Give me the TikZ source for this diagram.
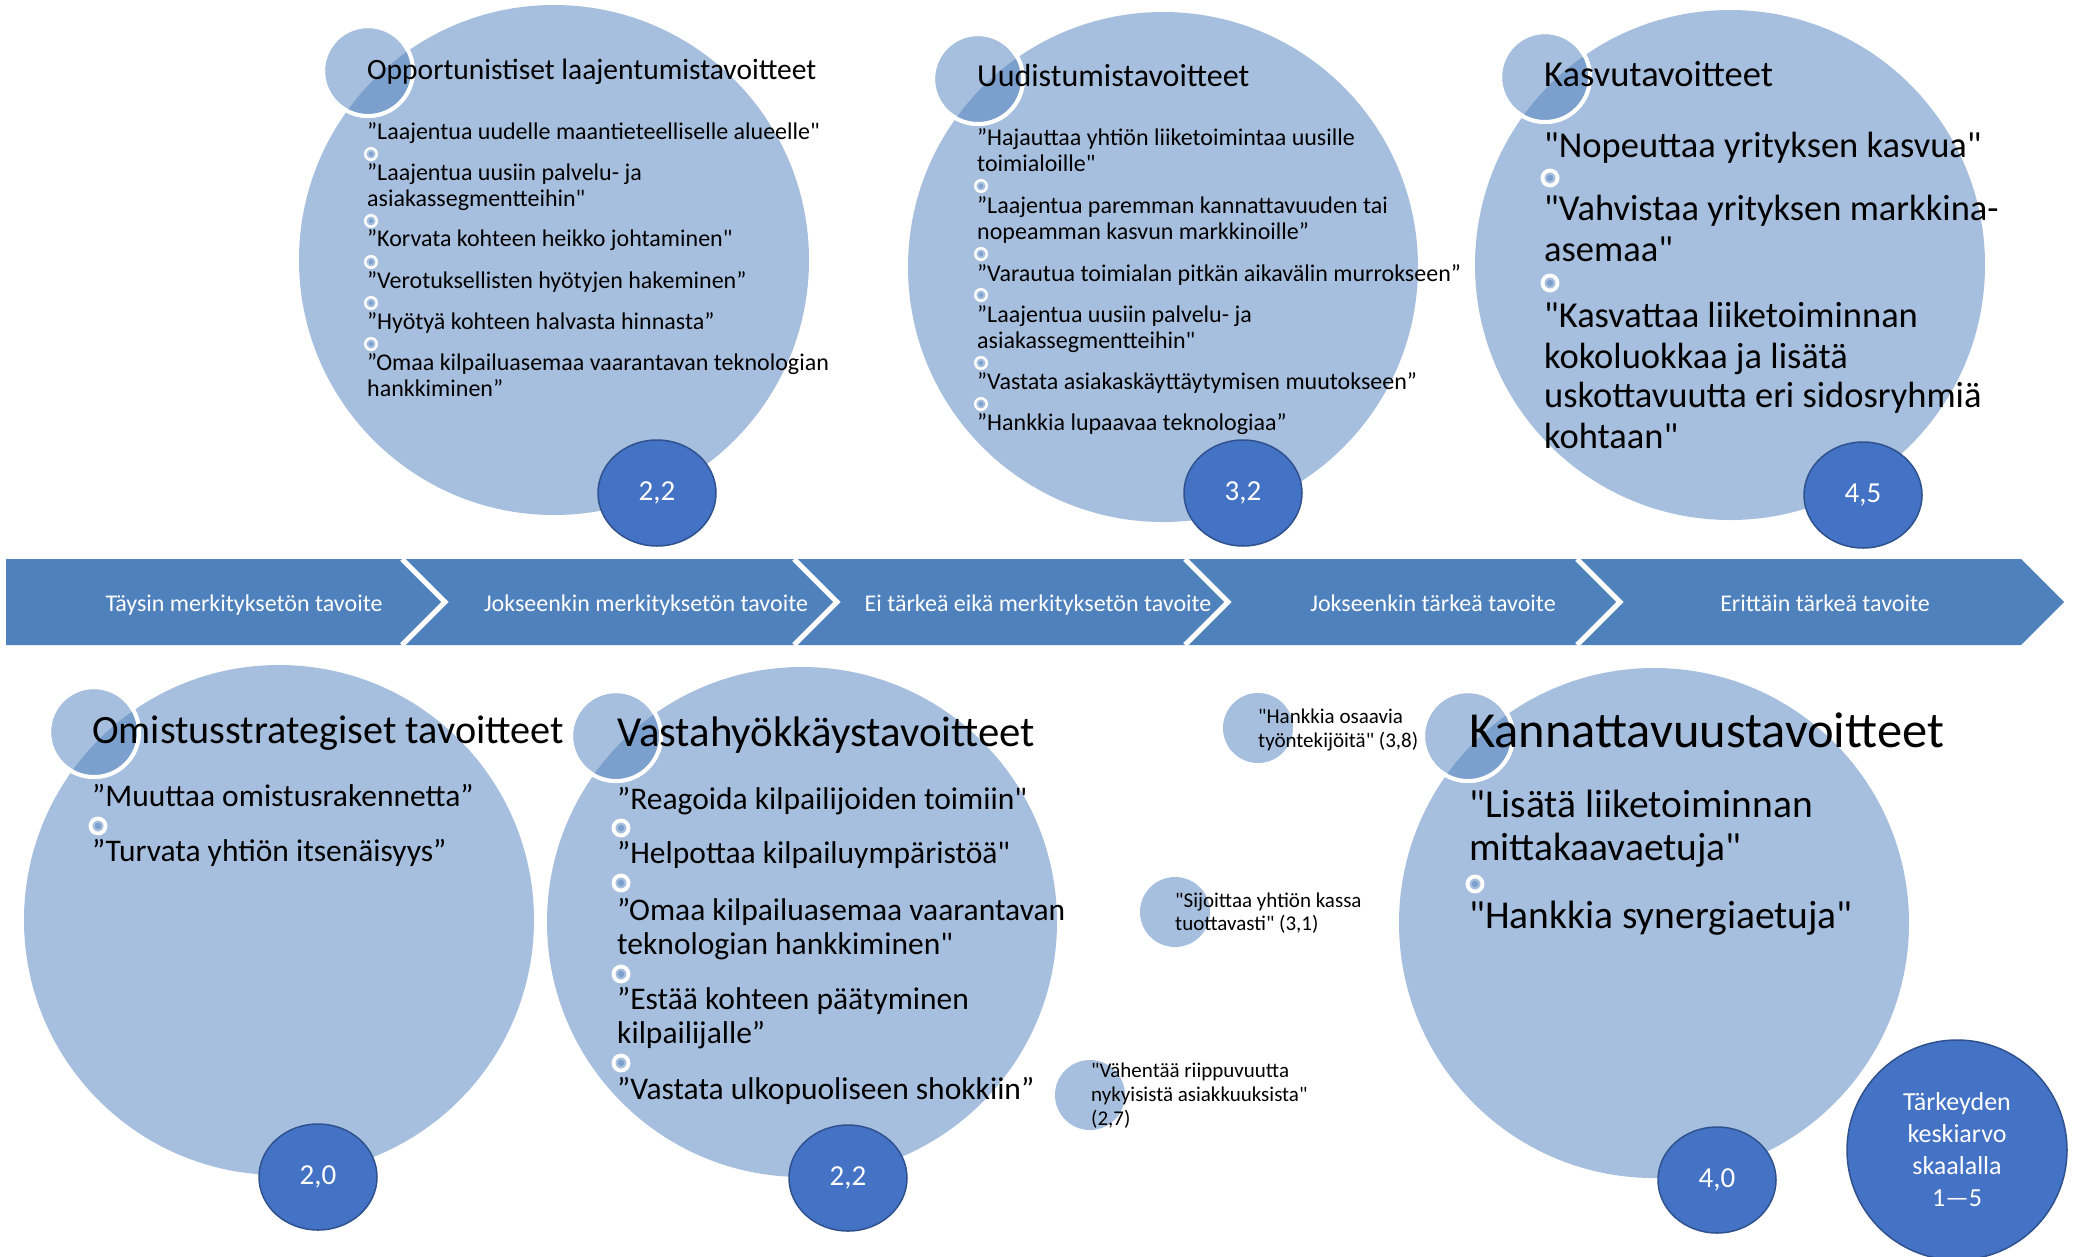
\documentclass[tikz,border=0pt]{standalone}
\usepackage{fontspec}
\setmainfont{Carlito}[Ligatures=TeXOff]
\usetikzlibrary{shapes.geometric}
\definecolor{bandc}{HTML}{4F81BD}
\definecolor{lightc}{HTML}{A7BFDE}
\definecolor{ovlc}{HTML}{7BA0CD}
\definecolor{valc}{HTML}{4472C4}
\definecolor{valbc}{HTML}{2F528F}
\begin{document}
\begin{tikzpicture}[x=1pt,y=-1pt,
  bigc/.style={circle,fill=lightc,minimum size=510pt,inner sep=0pt},
  smallc/.style={circle,fill=lightc,draw=white,line width=4pt,minimum size=90pt,inner sep=0pt},
  bubc/.style={circle,fill=lightc,minimum size=70pt,inner sep=0pt},
  valnode/.style={ellipse,fill=valc,draw=valbc,line width=1.5pt,minimum width=118pt,minimum height=106pt,inner sep=0pt,text=white,font=\fontsize{29}{32}\selectfont},
  legnode/.style={circle,fill=valc,draw=valbc,line width=1.5pt,minimum size=220pt,inner sep=0pt,text=white,align=center,font=\fontsize{26}{32}\selectfont},
  txt/.style={anchor=base west,inner sep=0pt},
  bandtxt/.style={anchor=base,inner sep=0pt,text=white,font=\fontsize{24}{28}\selectfont},
  sepline/.style={draw=white,line width=5pt},
  bulS/.style={circle,draw=white,line width=2.5pt,minimum size=11.5pt,inner sep=0pt,
    path picture={\fill[ovlc] (path picture bounding box.center) circle (2.2pt);}},
  bulL/.style={circle,draw=white,line width=3.8pt,minimum size=15pt,inner sep=0pt,
    path picture={\fill[ovlc] (path picture bounding box.center) circle (3.2pt);}},
  fA/.style={font=\fontsize{29.5}{32}\selectfont},
  fAi/.style={font=\fontsize{24}{26}\selectfont},
  fB/.style={font=\fontsize{32}{35}\selectfont},
  fC/.style={font=\fontsize{36.5}{40}\selectfont},
  fD/.style={font=\fontsize{40.2}{43}\selectfont},
  fDi/.style={font=\fontsize{31.5}{34}\selectfont},
  fE/.style={font=\fontsize{42.8}{46}\selectfont},
  fF/.style={font=\fontsize{50.5}{54}\selectfont},
  fFi/.style={font=\fontsize{39.5}{43}\selectfont},
  fG/.style={font=\fontsize{21}{24}\selectfont}
]
\useasboundingbox (0,0) rectangle (2082,1256);

% ---------- big circles ----------
\node[bigc] (c1) at (554,260) {};
\node[bigc] (c2) at (1163,267) {};
\node[bigc] (c3) at (1730,265) {};
\node[bigc] (c4) at (279,920) {};
\node[bigc] (c5) at (802,922) {};
\node[bigc] (c6) at (1654,923) {};

% ---------- small title circles ----------
\node[smallc] (s1) at (368,71) {};
\node[smallc] (s2) at (978,79) {};
\node[smallc] (s3) at (1545,77) {};
\node[smallc] (s4) at (94,732) {};
\node[smallc] (s5) at (616,736) {};
\node[smallc] (s6) at (1468,736) {};
\foreach \b/\s in {c1/s1,c2/s2,c3/s3,c4/s4,c5/s5,c6/s6}{
  \begin{scope}
    \clip (\b.center) circle (255pt);
    \fill[ovlc] (\s.center) circle (45pt);
  \end{scope}
  \draw[white,line width=4pt] (\s.center) circle (45pt);
}

% ---------- bubbles ----------
\node[bubc] (b1) at (1258,728) {};
\node[bubc] (b2) at (1175,912) {};
\node[bubc] (b3) at (1090,1095) {};

% ---------- band ----------
\fill[bandc] (6,559) -- (2021,559) -- (2064,602) -- (2021,645) -- (6,645) -- cycle;
\draw[sepline] (402,559) -- (445,602) -- (402,645);
\draw[sepline] (794,559) -- (837,602) -- (794,645);
\draw[sepline] (1185,559) -- (1228,602) -- (1185,645);
\draw[sepline] (1577,559) -- (1620,602) -- (1577,645);
\node[bandtxt] (bt1) at (244,611) {Täysin merkityksetön tavoite};
\node[bandtxt] (bt2) at (646,611) {Jokseenkin merkityksetön tavoite};
\node[bandtxt] (bt3) at (1038,611) {Ei tärkeä eikä merkityksetön tavoite};
\node[bandtxt] (bt4) at (1433,611) {Jokseenkin tärkeä tavoite};
\node[bandtxt] (bt5) at (1825,611) {Erittäin tärkeä tavoite};

% ---------- value circles ----------
\node[valnode] (v1) at (657,493) {2,2};
\node[valnode] (v2) at (1243,493) {3,2};
\node[valnode] (v3) at (1863,495) {4,5};
\node[valnode] (v4) at (318,1177) {2,0};
\node[valnode] (v5) at (848,1178) {2,2};
\node[valnode] (v6) at (1717,1180) {4,0};
\node[legnode] (leg) at (1957,1150) {Tärkeyden\\keskiarvo\\skaalalla\\1—5};

% ---------- circle 1 texts ----------
\node[txt,fA] (c1t) at (367,79) {Opportunistiset laajentumistavoitteet};
\node[txt,fAi] (c1i1) at (367,139) {”Laajentua uudelle maantieteelliselle alueelle"};
\node[bulS] (c1b1) at (371,154) {};
\node[txt,fAi] (c1i2a) at (367,180) {”Laajentua uusiin palvelu- ja};
\node[txt,fAi] (c1i2b) at (367,206) {asiakassegmentteihin"};
\node[bulS] (c1b2) at (371,221) {};
\node[txt,fAi] (c1i3) at (367,246) {”Korvata kohteen heikko johtaminen"};
\node[bulS] (c1b3) at (371,262) {};
\node[txt,fAi] (c1i4) at (367,288) {”Verotuksellisten hyötyjen hakeminen”};
\node[bulS] (c1b4) at (371,303) {};
\node[txt,fAi] (c1i5) at (367,329) {”Hyötyä kohteen halvasta hinnasta”};
\node[bulS] (c1b5) at (371,344) {};
\node[txt,fAi] (c1i6a) at (367,370) {”Omaa kilpailuasemaa vaarantavan teknologian};
\node[txt,fAi] (c1i6b) at (367,396) {hankkiminen”};

% ---------- circle 2 texts ----------
\node[txt,fB] (c2t) at (977,86) {Uudistumistavoitteet};
\node[txt,fAi] (c2i1a) at (977,145) {”Hajauttaa yhtiön liiketoimintaa uusille};
\node[txt,fAi] (c2i1b) at (977,171) {toimialoille"};
\node[bulS] (c2b1) at (981,186) {};
\node[txt,fAi] (c2i2a) at (977,213) {”Laajentua paremman kannattavuuden tai};
\node[txt,fAi] (c2i2b) at (977,239) {nopeamman kasvun markkinoille”};
\node[bulS] (c2b2) at (981,254) {};
\node[txt,fAi] (c2i3) at (977,281) {”Varautua toimialan pitkän aikavälin murrokseen”};
\node[bulS] (c2b3) at (981,295) {};
\node[txt,fAi] (c2i4a) at (977,322) {”Laajentua uusiin palvelu- ja};
\node[txt,fAi] (c2i4b) at (977,348) {asiakassegmentteihin"};
\node[bulS] (c2b4) at (981,363) {};
\node[txt,fAi] (c2i5) at (977,389) {”Vastata asiakaskäyttäytymisen muutokseen”};
\node[bulS] (c2b5) at (981,404) {};
\node[txt,fAi] (c2i6) at (977,430) {”Hankkia lupaavaa teknologiaa”};

% ---------- circle 3 texts ----------
\node[txt,fC] (c3t) at (1544,86) {Kasvutavoitteet};
\node[txt,fC] (c3i1) at (1544,157) {"Nopeuttaa yrityksen kasvua"};
\node[bulL] (c3b1) at (1550,178) {};
\node[txt,fC] (c3i2a) at (1544,220) {"Vahvistaa yrityksen markkina-};
\node[txt,fC] (c3i2b) at (1544,261) {asemaa"};
\node[bulL] (c3b2) at (1550,283) {};
\node[txt,fC] (c3i3a) at (1544,327) {"Kasvattaa liiketoiminnan};
\node[txt,fC] (c3i3b) at (1544,368) {kokoluokkaa ja lisätä};
\node[txt,fC] (c3i3c) at (1544,407) {uskottavuutta eri sidosryhmiä};
\node[txt,fC] (c3i3d) at (1544,448) {kohtaan"};

% ---------- circle 4 texts ----------
\node[txt,fD] (c4t) at (92,743) {Omistusstrategiset tavoitteet};
\node[txt,fDi] (c4i1) at (92,806) {”Muuttaa omistusrakennetta”};
\node[bulL] (c4b1) at (98,826) {};
\node[txt,fDi] (c4i2) at (92,861) {”Turvata yhtiön itsenäisyys”};

% ---------- circle 5 texts ----------
\node[txt,fE] (c5t) at (617,746) {Vastahyökkäystavoitteet};
\node[txt,fDi] (c5i1) at (617,809) {”Reagoida kilpailijoiden toimiin"};
\node[bulL] (c5b1) at (621,828) {};
\node[txt,fDi] (c5i2) at (617,863) {”Helpottaa kilpailuympäristöä"};
\node[bulL] (c5b2) at (621,883) {};
\node[txt,fDi] (c5i3a) at (617,920) {”Omaa kilpailuasemaa vaarantavan};
\node[txt,fDi] (c5i3b) at (617,954) {teknologian hankkiminen"};
\node[bulL] (c5b3) at (621,974) {};
\node[txt,fDi] (c5i4a) at (617,1009) {”Estää kohteen päätyminen};
\node[txt,fDi] (c5i4b) at (617,1043) {kilpailijalle”};
\node[bulL] (c5b4) at (621,1063) {};
\node[txt,fDi] (c5i5) at (617,1099) {”Vastata ulkopuoliseen shokkiin”};

% ---------- circle 6 texts ----------
\node[txt,fF] (c6t) at (1469,747) {Kannattavuustavoitteet};
\node[txt,fFi] (c6i1a) at (1469,817) {"Lisätä liiketoiminnan};
\node[txt,fFi] (c6i1b) at (1469,860) {mittakaavaetuja"};
\node[bulL] (c6b1) at (1475,884) {};
\node[txt,fFi] (c6i2) at (1469,928) {"Hankkia synergiaetuja"};

% ---------- bubble texts ----------
\node[txt,fG] (b1a) at (1258,723) {"Hankkia osaavia};
\node[txt,fG] (b1b) at (1258,747) {työntekijöitä" (3,8)};
\node[txt,fG] (b2a) at (1175,907) {"Sijoittaa yhtiön kassa};
\node[txt,fG] (b2b) at (1175,930) {tuottavasti" (3,1)};
\node[txt,fG] (b3a) at (1091,1077) {"Vähentää riippuvuutta};
\node[txt,fG] (b3b) at (1091,1101) {nykyisistä asiakkuuksista"};
\node[txt,fG] (b3c) at (1091,1125) {(2,7)};
\end{tikzpicture}
\end{document}
